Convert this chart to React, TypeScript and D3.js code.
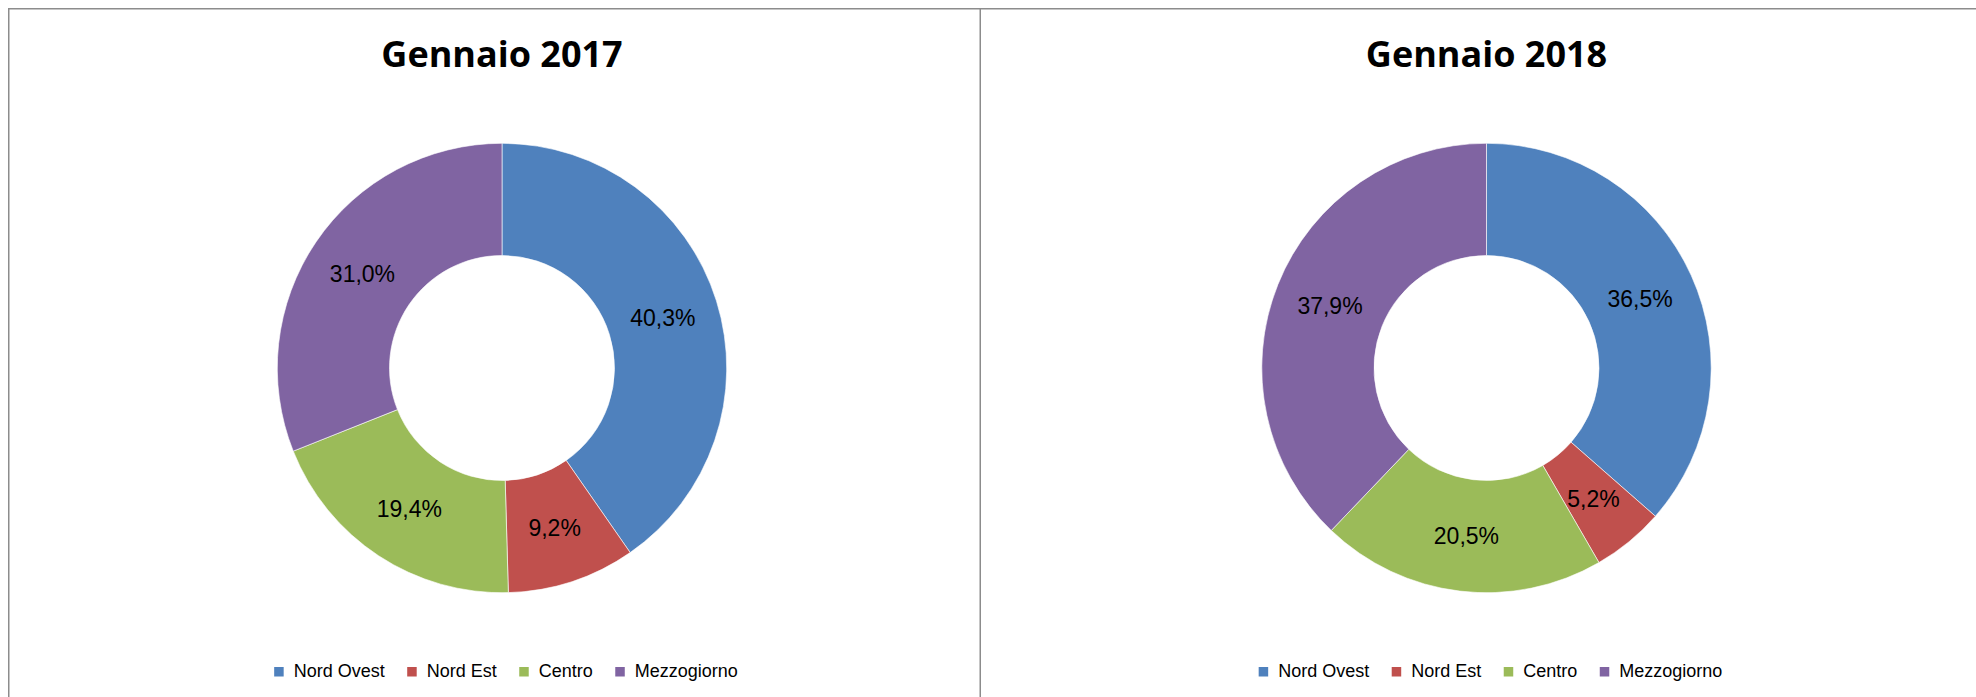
import React, { useRef, useEffect } from 'react';
import * as d3 from 'd3';

// ==================== DATA ====================
const categories = ['Nord Ovest', 'Nord Est', 'Centro', 'Mezzogiorno'];
const values2017 = [40.3, 9.2, 19.4, 31.0];
const values2018 = [36.5, 5.2, 20.5, 37.9];
const titles = ['Gennaio 2017', 'Gennaio 2018'];

const COLORS = ['#4F81BD', '#C0504D', '#9BBB59', '#8064A2'];

const W = 1976;
const H = 697;

const App = () => {
    const svgRef = useRef<SVGSVGElement | null>(null);

    useEffect(() => {
        if (!svgRef.current) return;
        const svg = d3.select(svgRef.current);
        svg.selectAll('*').remove();

        svg.append('rect').attr('width', W).attr('height', H).attr('fill', '#fff');

        // panel frames (left panel + right panel, cut by the window)
        const frame = svg.append('g')
            .attr('fill', 'none')
            .attr('stroke', '#8c8c8c')
            .attr('stroke-width', 1.5);
        frame.append('path').attr('d', `M8.75,${H + 5} V8.75 H${W + 5}`);
        frame.append('path').attr('d', `M980.25,8.75 V${H + 5}`);

        const panels = [
            { title: titles[0], values: values2017, cx: 502, cy: 368 },
            { title: titles[1], values: values2018, cx: 1486.5, cy: 368 }
        ];

        const R = 224.7;
        const r = 112.5;

        const pie = d3.pie<number>()
            .sort(null)
            .value(d => d);

        const arc = d3.arc<d3.PieArcDatum<number>>()
            .innerRadius(r)
            .outerRadius(R);

        const labelArc = d3.arc<d3.PieArcDatum<number>>()
            .innerRadius((R + r) / 2)
            .outerRadius((R + r) / 2);

        const fmt = (v: number) => v.toFixed(1).replace('.', ',') + '%';

        panels.forEach(p => {
            const g = svg.append('g');

            // title
            g.append('text')
                .attr('x', p.cx)
                .attr('y', 67)
                .attr('text-anchor', 'middle')
                .attr('font-family', "'Open Sans', sans-serif")
                .attr('font-weight', 'bold')
                .attr('font-size', 36)
                .attr('fill', '#000')
                .text(p.title);

            // donut
            const donut = g.append('g').attr('transform', `translate(${p.cx},${p.cy})`);
            const arcs = pie(p.values);

            donut.selectAll('path.slice')
                .data(arcs)
                .enter()
                .append('path')
                .attr('class', 'slice')
                .attr('d', arc)
                .attr('fill', (_, i) => COLORS[i])
                .attr('stroke', '#ffffff')
                .attr('stroke-width', 0.6);

            donut.selectAll('text.lbl')
                .data(arcs)
                .enter()
                .append('text')
                .attr('class', 'lbl')
                .attr('transform', d => `translate(${labelArc.centroid(d)})`)
                .attr('text-anchor', 'middle')
                .attr('dy', '0.36em')
                .attr('font-family', "'Liberation Sans', Arial, sans-serif")
                .attr('font-size', 23)
                .attr('fill', '#000')
                .text(d => fmt(d.data));

            // legend
            const legend = g.append('g');
            const items = legend.selectAll('g.item')
                .data(categories)
                .enter()
                .append('g')
                .attr('class', 'item');

            items.append('rect')
                .attr('width', 9.5)
                .attr('height', 9.5)
                .attr('y', 667)
                .attr('fill', (_, i) => COLORS[i]);

            items.append('text')
                .attr('x', 19.5)
                .attr('y', 677)
                .attr('font-family', "'Liberation Sans', Arial, sans-serif")
                .attr('font-size', 18)
                .attr('fill', '#000')
                .text(d => d);

            // lay the legend out from measured text widths
            const widths: number[] = [];
            items.select('text').each(function () {
                widths.push((this as SVGTextElement).getComputedTextLength());
            });
            const gap = 22.5;
            const total = d3.sum(widths, w => 19.5 + w) + gap * (widths.length - 1);
            let x = p.cx + 4 - total / 2;
            items.attr('transform', (_, i) => {
                const t = `translate(${x},0)`;
                x += 19.5 + widths[i] + gap;
                return t;
            });
        });
    }, []);

    return (
        <svg
            ref={svgRef}
            width={W}
            height={H}
            style={{ position: 'absolute', left: 0, top: 0, display: 'block' }}
        />
    );
};

export default App;
